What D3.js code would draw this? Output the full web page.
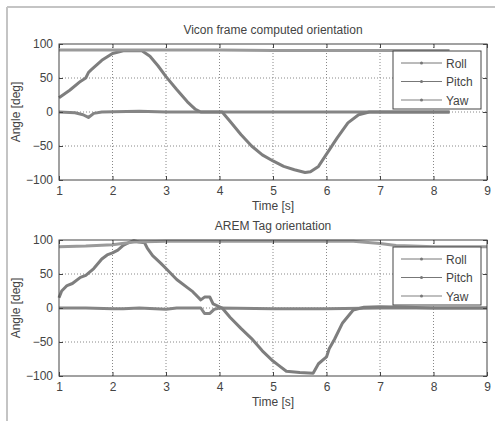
<!DOCTYPE html>
<html><head><meta charset="utf-8">
<script src="https://cdn.jsdelivr.net/npm/d3@7"></script>
<style>body{margin:0;background:#fff}svg text{font-family:"Liberation Sans",Arial,sans-serif;fill:#444}</style>
</head><body><svg id="c" width="495" height="421"></svg>
<script>
const xTicks = [1,2,3,4,5,6,7,8,9];
const yTicks = [-100,-50,0,50,100];
const seriesNames = ["Roll","Pitch","Yaw"];
const titles = ["Vicon frame computed orientation","AREM Tag orientation"];

// Plot 1 (Vicon)
const roll1T = [1,1.3,1.45,1.55,1.65,1.8,2.5,3.0,4,5,6,7,8.3];
const roll1V = [0,-1,-4,-8,-2,0,1,0,0,0,0,0,0];
const pitch1T = [1,1.2,1.4,1.5,1.55,1.6,1.8,2.0,2.2,2.35,2.55,2.7,2.85,3.0,3.2,3.4,3.55,3.65,4.05,4.2,4.4,4.6,4.8,5.0,5.2,5.4,5.6,5.7,5.85,6.0,6.2,6.4,6.6,6.8,7.5,8.3];
const pitch1V = [21,32,45,50,58,62,76,86,90,90,90,82,68,52,33,15,4,0,0,-14,-33,-50,-63,-72,-80,-85,-89,-88,-80,-62,-38,-16,-4,0,0,0];
const yaw1T = [1,2,3,4,5,6,7,8.3];
const yaw1V = [91,91,91,91,90.5,90.5,90.5,90.5];

// Plot 2 (AREM)
const roll2T = [1,1.5,2.0,2.2,2.5,3.0,3.2,3.5,3.65,3.72,3.82,3.9,4.0,5,6,7,8,9];
const roll2V = [0,0,-1,-1,0,-2,0,0,0,-8,-8,-2,0,-1,-1,0,0,0];
const pitch2T = [1,1.05,1.15,1.25,1.4,1.5,1.65,1.8,1.9,2.0,2.1,2.2,2.3,2.4,2.5,2.6,2.65,2.75,2.9,3.0,3.2,3.4,3.5,3.65,3.72,3.82,3.88,4.05,4.2,4.4,4.6,4.8,5.0,5.1,5.25,5.5,5.75,5.85,6.0,6.05,6.15,6.3,6.5,6.7,7.0,7.5,8,9];
const pitch2V = [15,25,33,36,45,48,58,72,78,81,85,92,96,99,97,96,88,77,66,58,42,30,24,12,16,16,6,0,-14,-30,-45,-63,-78,-84,-93,-95,-96,-82,-72,-60,-46,-22,-3,1,2,1,0,0];
const yaw2T = [1,1.5,2.0,2.4,3,4,5,6,6.5,7.0,7.3,7.6,8,9];
const yaw2V = [90,91,93,97,98,98,98,98,98,95,92,91,90,90];

const plots = [
  {top:44, series:[[roll1T,roll1V],[pitch1T,pitch1V],[yaw1T,yaw1V]], title:titles[0]},
  {top:240, series:[[roll2T,roll2V],[pitch2T,pitch2V],[yaw2T,yaw2V]], title:titles[1]}
];
const colors = ["#858585","#7e7e7e","#9a9a9a"];
const svg = d3.select("#c");
// outer frame
svg.append("line").attr("x1",7).attr("y1",7).attr("x2",495).attr("y2",7).attr("stroke","#c4c4c4").attr("stroke-width",2);
svg.append("line").attr("x1",7).attr("y1",7).attr("x2",7).attr("y2",421).attr("stroke","#c4c4c4").attr("stroke-width",2);

const L=59,R=487,H=136;
plots.forEach(p=>{
  const x=d3.scaleLinear().domain([1,9]).range([L,R]);
  const y=d3.scaleLinear().domain([-100,100]).range([p.top+H,p.top]);
  const g=svg.append("g");
  // grid
  g.selectAll(".gx").data(xTicks.slice(1,-1)).join("line").attr("x1",d=>x(d)).attr("x2",d=>x(d)).attr("y1",p.top).attr("y2",p.top+H).attr("stroke","#888").attr("stroke-dasharray","1,2");
  g.selectAll(".gy").data(yTicks.slice(1,-1)).join("line").attr("y1",d=>y(d)).attr("y2",d=>y(d)).attr("x1",L).attr("x2",R).attr("stroke","#888").attr("stroke-dasharray","1,2");
  // series
  const line=d3.line().x(d=>x(d[0])).y(d=>y(d[1]));
  p.series.forEach((s,i)=>{
    const pts=s[0].map((t,k)=>[t,s[1][k]]);
    g.append("path").attr("d",line(pts)).attr("fill","none").attr("stroke",colors[i]).attr("stroke-width",3).attr("stroke-linejoin","round");
  });
  // axes
  const ax=g.append("g").attr("transform",`translate(0,${p.top+H})`).call(d3.axisBottom(x).tickValues(xTicks).tickSize(-4).tickPadding(6).tickFormat(d3.format("d")));
  const axt=g.append("g").attr("transform",`translate(0,${p.top})`).call(d3.axisTop(x).tickValues(xTicks).tickSize(-4).tickFormat(""));
  const ay=g.append("g").attr("transform",`translate(${L},0)`).call(d3.axisLeft(y).tickValues(yTicks).tickSize(-4).tickPadding(6));
  const ayr=g.append("g").attr("transform",`translate(${R},0)`).call(d3.axisRight(y).tickValues(yTicks).tickSize(-4).tickFormat(""));
  [ax,axt,ay,ayr].forEach(a=>{a.select(".domain").remove();a.selectAll("line").attr("stroke","#444");a.selectAll("text").attr("font-size",12).attr("fill","#444").attr("font-family","Liberation Sans, Arial, sans-serif");});
  g.append("rect").attr("x",L).attr("y",p.top).attr("width",R-L).attr("height",H).attr("fill","none").attr("stroke","#444");
  // labels
  g.append("text").attr("x",273).attr("y",p.top-10).attr("text-anchor","middle").attr("font-size",12).text(p.title);
  g.append("text").attr("x",273).attr("y",p.top+H+30).attr("text-anchor","middle").attr("font-size",12).text("Time [s]");
  g.append("text").attr("transform",`translate(20,${p.top+H/2}) rotate(-90)`).attr("text-anchor","middle").attr("font-size",12).text("Angle [deg]");
  // legend
  const lg=g.append("g").attr("transform",`translate(393,${p.top+7})`);
  lg.append("rect").attr("width",88).attr("height",58).attr("fill","#fff").attr("stroke","#444");
  seriesNames.forEach((n,i)=>{
    const yy=12+i*18.5;
    lg.append("line").attr("x1",8).attr("x2",49).attr("y1",yy).attr("y2",yy).attr("stroke",i==2?"#aaa":"#777").attr("stroke-width",i==2?1.5:1);
    lg.append("circle").attr("cx",28.5).attr("cy",yy).attr("r",1.5).attr("fill","#777");
    lg.append("text").attr("x",53).attr("y",yy+4.5).attr("font-size",12).text(n);
  });
});
</script></body></html>
